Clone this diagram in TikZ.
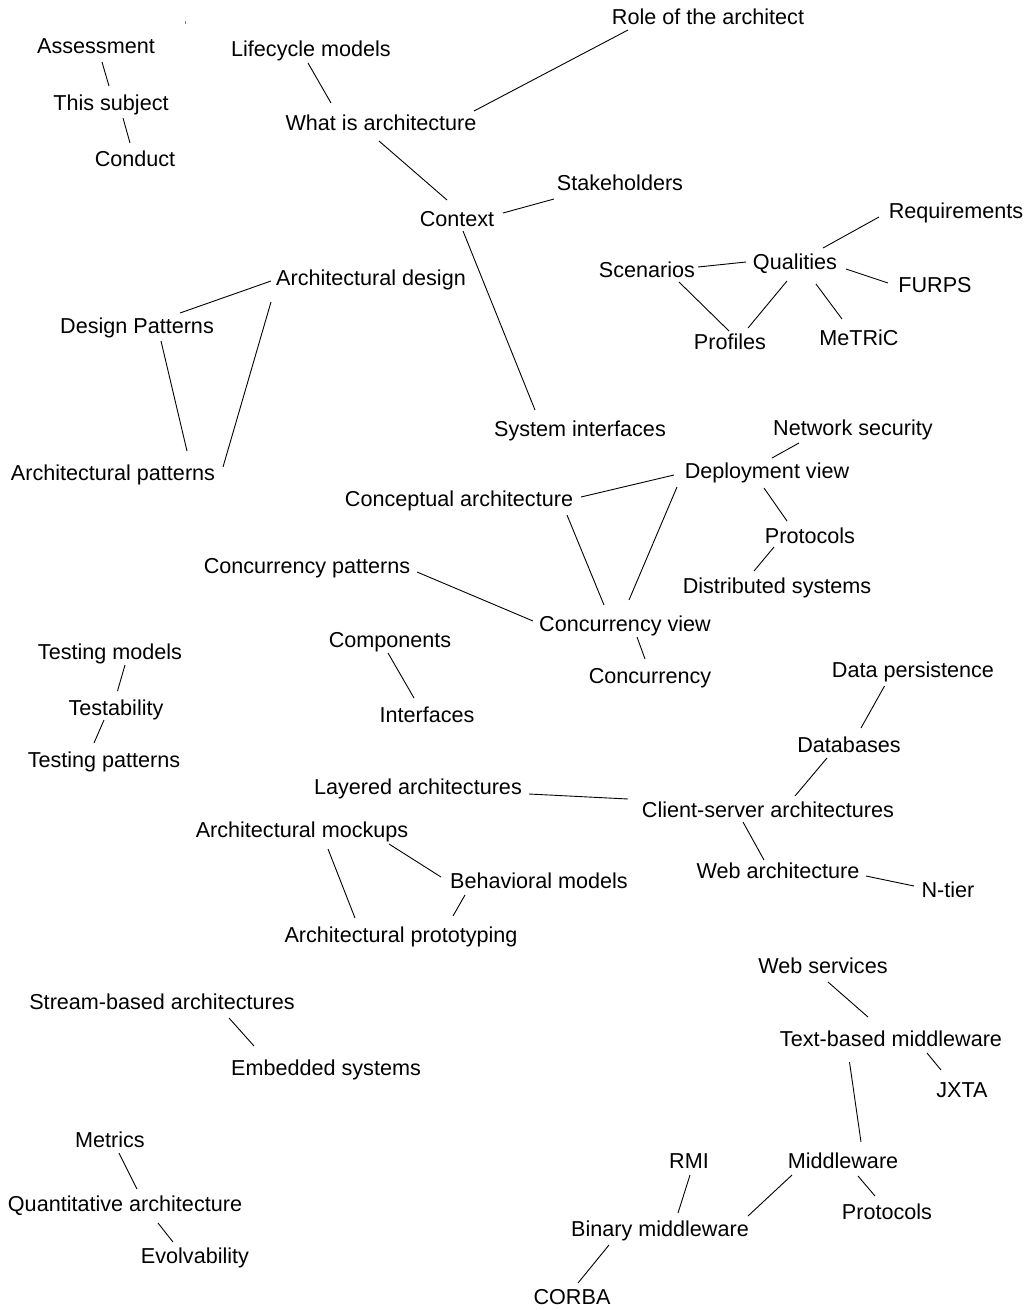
\documentclass[tikz,border=0pt]{standalone}
\usepackage{fontspec}
\setmainfont{Liberation Sans}
\begin{document}
\begin{tikzpicture}[x=1pt,y=-1pt,
  lbl/.style={anchor=base,inner sep=0pt,font=\fontsize{21.6}{24}\selectfont},
  link/.style={line width=0.9pt,black}]
\fill[white] (0,0) rectangle (1035,1310);
\useasboundingbox (0,0) rectangle (1035,1310);
% tiny mark
\coordinate (mk1) at (185,21);
\coordinate (mk2) at (185,24);
\draw[line width=0.8pt,gray] (mk1) -- (mk2);
% nodes
\node[lbl] (as) at (96,53) {Assessment};
\node[lbl] (ts) at (111,110) {This subject};
\node[lbl] (co) at (135,166) {Conduct};
\node[lbl] (lc) at (311,56) {Lifecycle models};
\node[lbl] (wa) at (381,130) {What is architecture};
\node[lbl] (ro) at (708,24) {Role of the architect};
\node[lbl] (cx) at (457,226) {Context};
\node[lbl] (sh) at (620,190) {Stakeholders};
\node[lbl] (ad) at (371,285) {Architectural design};
\node[lbl] (dp) at (137,333) {Design Patterns};
\node[lbl] (ap) at (113,480) {Architectural patterns};
\node[lbl] (si) at (580,436) {System interfaces};
\node[lbl] (rq) at (956,218) {Requirements};
\node[lbl] (ql) at (795,269) {Qualities};
\node[lbl] (sc) at (647,277) {Scenarios};
\node[lbl] (fu) at (935,292) {FURPS};
\node[lbl] (pf) at (730,349) {Profiles};
\node[lbl] (mt) at (859,345) {MeTRiC};
\node[lbl] (ns) at (853,435) {Network security};
\node[lbl] (dv) at (767,478) {Deployment view};
\node[lbl] (ca) at (459,506) {Conceptual architecture};
\node[lbl] (pra) at (810,543) {Protocols};
\node[lbl] (ds) at (777,593) {Distributed systems};
\node[lbl] (cp) at (307,573) {Concurrency patterns};
\node[lbl] (cv) at (625,631) {Concurrency view};
\node[lbl] (cm) at (390,647) {Components};
\node[lbl] (cc) at (650,683) {Concurrency};
\node[lbl] (itf) at (427,722) {Interfaces};
\node[lbl] (tm) at (110,659) {Testing models};
\node[lbl] (tb) at (116,715) {Testability};
\node[lbl] (tp) at (104,767) {Testing patterns};
\node[lbl] (dpe) at (913,677) {Data persistence};
\node[lbl] (db) at (849,752) {Databases};
\node[lbl] (la) at (418,794) {Layered architectures};
\node[lbl] (cs) at (768,817) {Client-server architectures};
\node[lbl] (am) at (302,837) {Architectural mockups};
\node[lbl] (bm) at (539,888) {Behavioral models};
\node[lbl] (wb) at (778,878) {Web architecture};
\node[lbl] (nt) at (948,897) {N-tier};
\node[lbl] (apr) at (401,942) {Architectural prototyping};
\node[lbl] (ws) at (823,973) {Web services};
\node[lbl] (sb) at (162,1009) {Stream-based architectures};
\node[lbl] (tx) at (891,1046) {Text-based middleware};
\node[lbl] (es) at (326,1075) {Embedded systems};
\node[lbl] (jx) at (962,1097) {JXTA};
\node[lbl] (me) at (110,1147) {Metrics};
\node[lbl] (rmi) at (689,1168) {RMI};
\node[lbl] (mw) at (843,1168) {Middleware};
\node[lbl] (qa) at (125,1211) {Quantitative architecture};
\node[lbl] (prb) at (887,1219) {Protocols};
\node[lbl] (bi) at (660,1236) {Binary middleware};
\node[lbl] (ev) at (195,1263) {Evolvability};
\node[lbl] (cb) at (572,1304) {CORBA};
% connectors
\draw[link] ([shift={(6,9)}]as.base) -- ([shift={(-2,-24)}]ts.base);
\draw[link] ([shift={(12,8)}]ts.base) -- ([shift={(-5,-23)}]co.base);
\draw[link] ([shift={(-3,7)}]lc.base) -- ([shift={(-50,-27)}]wa.base);
\draw[link] ([shift={(93,-19)}]wa.base) -- ([shift={(-80,6)}]ro.base);
\draw[link] ([shift={(-2,11)}]wa.base) -- ([shift={(-10,-26)}]cx.base);
\draw[link] ([shift={(46,-13)}]cx.base) -- ([shift={(-66,9)}]sh.base);
\draw[link] ([shift={(6,5)}]cx.base) -- ([shift={(-45,-26)}]si.base);
\draw[link] ([shift={(-100,-4)}]ad.base) -- ([shift={(43,-20)}]dp.base);
\draw[link] ([shift={(-100,17)}]ad.base) -- ([shift={(110,-13)}]ap.base);
\draw[link] ([shift={(24,8)}]dp.base) -- ([shift={(74,-29)}]ap.base);
\draw[link] ([shift={(-77,-1)}]rq.base) -- ([shift={(28,-21)}]ql.base);
\draw[link] ([shift={(51,-10)}]sc.base) -- ([shift={(-49,-7)}]ql.base);
\draw[link] ([shift={(51,0)}]ql.base) -- ([shift={(-47,-9)}]fu.base);
\draw[link] ([shift={(32,5)}]sc.base) -- ([shift={(-1,-18)}]pf.base);
\draw[link] ([shift={(-8,12)}]ql.base) -- ([shift={(18,-21)}]pf.base);
\draw[link] ([shift={(21,15)}]ql.base) -- ([shift={(-17,-26)}]mt.base);
\draw[link] ([shift={(-54,8)}]ns.base) -- ([shift={(5,-20)}]dv.base);
\draw[link] ([shift={(122,-9)}]ca.base) -- ([shift={(-93,-3)}]dv.base);
\draw[link] ([shift={(108,9)}]ca.base) -- ([shift={(-21,-26)}]cv.base);
\draw[link] ([shift={(-90,9)}]dv.base) -- ([shift={(4,-31)}]cv.base);
\draw[link] ([shift={(-3,10)}]dv.base) -- ([shift={(-23,-22)}]pra.base);
\draw[link] ([shift={(-36,4)}]pra.base) -- ([shift={(-23,-22)}]ds.base);
\draw[link] ([shift={(110,-1)}]cp.base) -- ([shift={(-92,-10)}]cv.base);
\draw[link] ([shift={(12,6)}]cv.base) -- ([shift={(-5,-24)}]cc.base);
\draw[link] ([shift={(-2,6)}]cm.base) -- ([shift={(-13,-24)}]itf.base);
\draw[link] ([shift={(15,6)}]tm.base) -- ([shift={(1.5,-24)}]tb.base);
\draw[link] ([shift={(-12,5)}]tb.base) -- ([shift={(-10,-24)}]tp.base);
\draw[link] ([shift={(-28.5,9)}]dpe.base) -- ([shift={(12,-24)}]db.base);
\draw[link] ([shift={(-22,6)}]db.base) -- ([shift={(27,-21)}]cs.base);
\draw[link] ([shift={(111,0)}]la.base) -- ([shift={(-140,-18)}]cs.base);
\draw[link] ([shift={(-25,5)}]cs.base) -- ([shift={(-14,-18)}]wb.base);
\draw[link] ([shift={(88,-2)}]wb.base) -- ([shift={(-34,-11)}]nt.base);
\draw[link] ([shift={(87,7)}]am.base) -- ([shift={(-98,-11)}]bm.base);
\draw[link] ([shift={(26,12)}]am.base) -- ([shift={(-46,-24)}]apr.base);
\draw[link] ([shift={(-74,7)}]bm.base) -- ([shift={(52,-26)}]apr.base);
\draw[link] ([shift={(5,9)}]ws.base) -- ([shift={(-23,-29)}]tx.base);
\draw[link] ([shift={(36,7)}]tx.base) -- ([shift={(-21,-27)}]jx.base);
\draw[link] ([shift={(-41.5,16)}]tx.base) -- ([shift={(18,-26)}]mw.base);
\draw[link] ([shift={(67,9)}]sb.base) -- ([shift={(-72,-29)}]es.base);
\draw[link] ([shift={(9,6)}]me.base) -- ([shift={(12,-22)}]qa.base);
\draw[link] ([shift={(33,12)}]qa.base) -- ([shift={(-22,-21)}]ev.base);
\draw[link] ([shift={(1,7)}]rmi.base) -- ([shift={(18,-23)}]bi.base);
\draw[link] ([shift={(-51,7)}]mw.base) -- ([shift={(88,-20)}]bi.base);
\draw[link] ([shift={(15,8)}]mw.base) -- ([shift={(-12,-23)}]prb.base);
\draw[link] ([shift={(-51,9)}]bi.base) -- ([shift={(6,-21)}]cb.base);
\end{tikzpicture}
\end{document}
